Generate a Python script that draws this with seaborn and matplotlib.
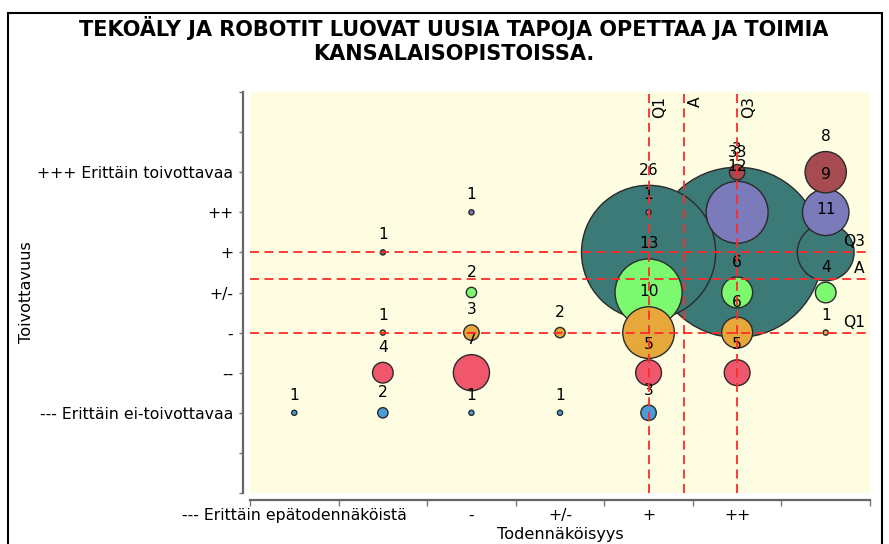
import numpy as np
import pandas as pd
import matplotlib
matplotlib.use("Agg")
import matplotlib.pyplot as plt
import seaborn as sns
from matplotlib.patches import Rectangle

# ---------------- data ----------------
title = "TEKOÄLY JA ROBOTIT LUOVAT UUSIA TAPOJA OPETTAA JA TOIMIA\nKANSALAISOPISTOISSA."
x_title = "Todennäköisyys"
y_title = "Toivottavuus"

# likelihood levels 1..7 (only some labels are visible in the original)
x_labels = ["--- Erittäin epätodennäköistä", "", "-", "+/-", "+", "++", ""]
# desirability levels 1..7
y_labels = ["--- Erittäin ei-toivottavaa", "--", "-", "+/-", "+", "++", "+++ Erittäin toivottavaa"]

# counts per desirability level, over likelihood levels 1..7
n_yyy_minus = [1, 2, 1, 1, 3, 0, 0]     # ---
n_yy_minus  = [0, 4, 7, 0, 5, 5, 0]     # --
n_y_minus   = [0, 1, 3, 2, 10, 6, 1]    # -
n_y_neutral = [0, 0, 2, 0, 13, 6, 4]    # +/-
n_y_plus    = [0, 1, 0, 0, 26, 33, 11]  # +
n_yy_plus   = [0, 0, 1, 0, 1, 12, 9]    # ++
n_yyy_plus  = [0, 0, 0, 0, 0, 3, 8]     # +++

series = [n_yyy_minus, n_yy_minus, n_y_minus, n_y_neutral, n_y_plus, n_yy_plus, n_yyy_plus]
colors = ["#4b9bd8", "#f0566c", "#e6a83b", "#7cf96f", "#3c7a78", "#7b7aba", "#a54b51"]

rows = []
for yi, counts in enumerate(series, start=1):
    for xi, c in enumerate(counts, start=1):
        if c > 0:
            rows.append({"x": xi, "y": yi, "n": c})
df = pd.DataFrame(rows).sort_values("n", ascending=False, kind="stable").reset_index(drop=True)

# statistics for reference lines
xs = np.repeat(df["x"].values, df["n"].values)
ys = np.repeat(df["y"].values, df["n"].values)
x_q1, x_mean, x_q3 = np.percentile(xs, 25), xs.mean(), np.percentile(xs, 75)
y_q1, y_mean, y_q3 = np.percentile(ys, 25), ys.mean(), np.percentile(ys, 75)

# ---------------- style ----------------
sns.set_style("white")
plt.rcParams["font.family"] = ["DejaVu Sans"]
plt.rcParams["text.color"] = "black"
plt.rcParams["xtick.labelcolor"] = "black"
plt.rcParams["ytick.labelcolor"] = "black"
FS = 11.2       # data labels
FS_TICK = 11.3  # tick labels
FS_AX = 11.6    # axis titles
plt.rcParams["xtick.labelsize"] = FS_TICK
plt.rcParams["ytick.labelsize"] = FS_TICK
DPI = 100
PX_PER_COUNT = 2.58  # bubble radius in pixels per response

fig = plt.figure(figsize=(8.89, 5.44), dpi=DPI)
ax = fig.add_axes([250 / 889, 1 - 493 / 544, 620 / 889, 401 / 544])
ax.set_facecolor("#fefde2")

size_map = {c: (2 * PX_PER_COUNT * c * 72 / DPI) ** 2 for c in df["n"].unique()}
pal = {i + 1: col for i, col in enumerate(colors)}

sns.scatterplot(data=df, x="x", y="y", hue="y", palette=pal, size="n", sizes=size_map,
                edgecolor="#2a2a2a", linewidth=1.0, alpha=1, legend=False, ax=ax, zorder=2)

for _, r in df.iterrows():
    ax.annotate(str(int(r["n"])), (r["x"], r["y"]),
                xytext=(0, PX_PER_COUNT * r["n"] + 15), textcoords="offset pixels",
                ha="center", va="center", fontsize=FS, color="black", zorder=4)

line_kw = dict(color="#ff2a2a", linestyle=(0, (5, 3)), linewidth=1.3, zorder=5)
for v, lab in [(x_q1, "Q1"), (x_mean, "A"), (x_q3, "Q3")]:
    ax.axvline(v, **line_kw)
    ax.annotate(lab, (v, 1), xycoords=("data", "axes fraction"), xytext=(4, -4),
                textcoords="offset pixels", rotation=90, ha="left", va="top",
                fontsize=FS, color="black", zorder=6)
for v, lab in [(y_q1, "Q1"), (y_mean, "A"), (y_q3, "Q3")]:
    ax.axhline(v, **line_kw)
    ax.annotate(lab, (1, v), xycoords=("axes fraction", "data"), xytext=(-5, 3),
                textcoords="offset pixels", ha="right", va="bottom",
                fontsize=FS, color="black", zorder=6)

ax.set_xlim(0.5, 7.5)
ax.set_ylim(-1, 9)

# x ticks between categories, labels at categories
ax.set_xticks(np.arange(0.5, 8.0, 1.0))
ax.set_xticklabels([])
ax.set_xticks(np.arange(1, 8), minor=True)
ax.set_xticklabels(x_labels, minor=True)
ax.tick_params(axis="x", which="major", direction="out", length=4, width=1, color="#777777", bottom=True)
ax.tick_params(axis="x", which="minor", length=0, pad=6, bottom=True, labelsize=FS_TICK)

yt = np.arange(-1, 10)
ax.set_yticks(yt)
ax.set_yticklabels([y_labels[v - 1] if 1 <= v <= 7 else "" for v in yt])
ax.tick_params(axis="y", direction="out", length=3, width=1, color="#777777", pad=4, left=True,
               labelsize=FS_TICK)

ax.set_xlabel("")
ax.set_ylabel("")
for s in ["top", "right"]:
    ax.spines[s].set_visible(False)
for s in ["left", "bottom"]:
    ax.spines[s].set_position(("outward", 5))
    ax.spines[s].set_color("#666666")
    ax.spines[s].set_linewidth(1.6)

fig.text(560 / 889, 1 - 534 / 544, x_title, ha="center", va="center", fontsize=FS_AX)
fig.text(27 / 889, 1 - 292 / 544, y_title, ha="center", va="center", rotation=90, fontsize=FS_AX)
fig.text(454 / 889, 1 - 40 / 544, title, ha="center", va="center", fontsize=15,
         fontweight="bold", linespacing=1.2, color="black")

fig.patches.append(Rectangle((8 / 889, -0.1), 874 / 889, 1.1 - 13 / 544,
                             transform=fig.transFigure, fill=False, edgecolor="black",
                             linewidth=1.5, zorder=10))

fig.savefig("out.png", dpi=DPI)
